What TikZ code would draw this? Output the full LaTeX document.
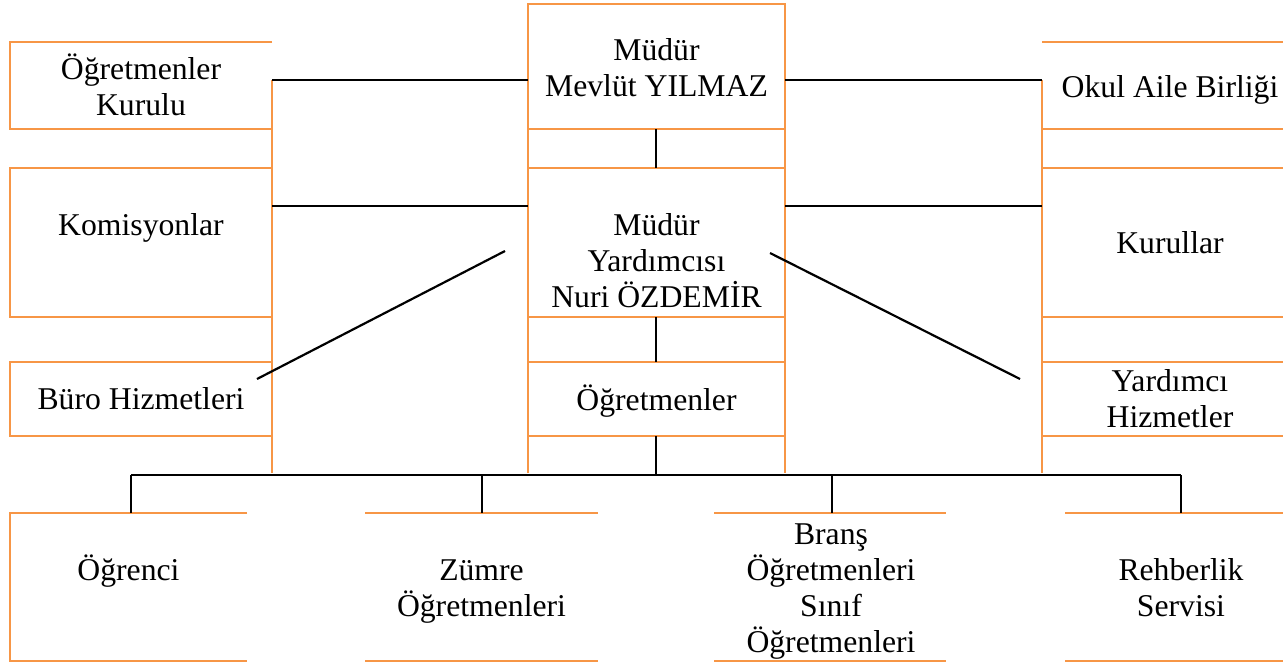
\documentclass[tikz,border=0pt]{standalone}
\usepackage{fontspec}
\setmainfont{Liberation Serif}
\definecolor{wordorange}{HTML}{F79646}
\tikzset{
  border/.style={draw=wordorange, line width=2.2pt},
  conn/.style={draw=black, line width=2.2pt},
  txt/.style={anchor=base, align=center, inner sep=0pt, font=\fontsize{31.7}{36}\selectfont},
}
\begin{document}
\begin{tikzpicture}[x=1pt,y=-1pt]
\useasboundingbox (0,0) rectangle (1283,662);

% ---------- texts (anchor = baseline of last line) ----------
\node[txt] (okurul) at (141,115) {Öğretmenler\\Kurulu};
\node[txt] (komis) at (141,235) {Komisyonlar};
\node[txt] (buro) at (141,409) {Büro Hizmetleri};
\node[txt] (mudur) at (656.5,96) {Müdür\\Mevlüt YILMAZ};
\node[txt] (myard) at (656.5,307) {Müdür\\Yardımcısı\\Nuri ÖZDEMİR};
\node[txt] (ogret) at (656.5,410) {Öğretmenler};
\node[txt] (oab) at (1170,97) {Okul Aile Birliği};
\node[txt] (kurul) at (1170,253) {Kurullar};
\node[txt] (yhiz) at (1170,427) {Yardımcı\\Hizmetler};
\node[txt] (ogrenci) at (128.5,580) {Öğrenci};
\node[txt] (zumre) at (481.5,616) {Zümre\\Öğretmenleri};
\node[txt] (brans) at (831,652) {Branş\\Öğretmenleri\\Sınıf\\Öğretmenleri};
\node[txt] (rehber) at (1181,616) {Rehberlik\\Servisi};

% ---------- orange table borders ----------
% left column
\draw[border] (272,42) -- (10,42) -- (10,129) -- (272,129);
\draw[border] (272,168) -- (10,168) -- (10,317) -- (272,317);
\draw[border] (272,362) -- (10,362) -- (10,436) -- (272,436);
\draw[border] (272,80) -- (272,473);
% middle column
\draw[border] (528,473) -- (528,4) -- (785,4) -- (785,473);
\foreach \yy in {129,168,317,362,436} \draw[border] (528,\yy) -- (785,\yy);
% right column
\draw[border] (1042,80) -- (1042,473);
\foreach \yy in {42,129,168,317,362,436} \draw[border] (1042,\yy) -- (1283,\yy);
% bottom row
\draw[border] (247,513) -- (10,513) -- (10,661) -- (247,661);
\draw[border] (365,513) -- (598,513);
\draw[border] (365,661) -- (598,661);
\draw[border] (714,513) -- (946,513);
\draw[border] (714,661) -- (946,661);
\draw[border] (1065,513) -- (1283,513);
\draw[border] (1065,661) -- (1283,661);

% ---------- connector end points ----------
\coordinate (okR) at (272,80);
\coordinate (mudL) at (528,80);
\coordinate (mudR) at (785,80);
\coordinate (oabL) at (1042,80);
\coordinate (komR) at (272,206);
\coordinate (myL) at (528,206);
\coordinate (myR) at (785,206);
\coordinate (kurL) at (1042,206);
\coordinate (mudB) at (656,129);
\coordinate (myT) at (656,168);
\coordinate (myB) at (656,317);
\coordinate (ogT) at (656,362);
\coordinate (ogB) at (656,436);
\coordinate (bus) at (656,475);
\coordinate (busL) at (131,475);
\coordinate (busR) at (1181,475);
\coordinate (ogrT) at (131,513);
\coordinate (zumT) at (482,513);
\coordinate (braT) at (832,513);
\coordinate (rehT) at (1181,513);
\coordinate (busZ) at (482,475);
\coordinate (busB) at (832,475);
\coordinate (dlA) at (505,251);
\coordinate (dlB) at (257,379);
\coordinate (drA) at (770,253);
\coordinate (drB) at (1020,379);

% ---------- black connectors ----------
\draw[conn] (okR) -- (mudL);
\draw[conn] (mudR) -- (oabL);
\draw[conn] (komR) -- (myL);
\draw[conn] (myR) -- (kurL);
\draw[conn] (mudB) -- (myT);
\draw[conn] (myB) -- (ogT);
\draw[conn] (ogB) -- (bus);
\draw[conn] (busL) -- (busR);
\draw[conn] (busL) -- (ogrT);
\draw[conn] (busZ) -- (zumT);
\draw[conn] (busB) -- (braT);
\draw[conn] (busR) -- (rehT);
\draw[conn] (dlA) -- (dlB);
\draw[conn] (drA) -- (drB);
\end{tikzpicture}
\end{document}
